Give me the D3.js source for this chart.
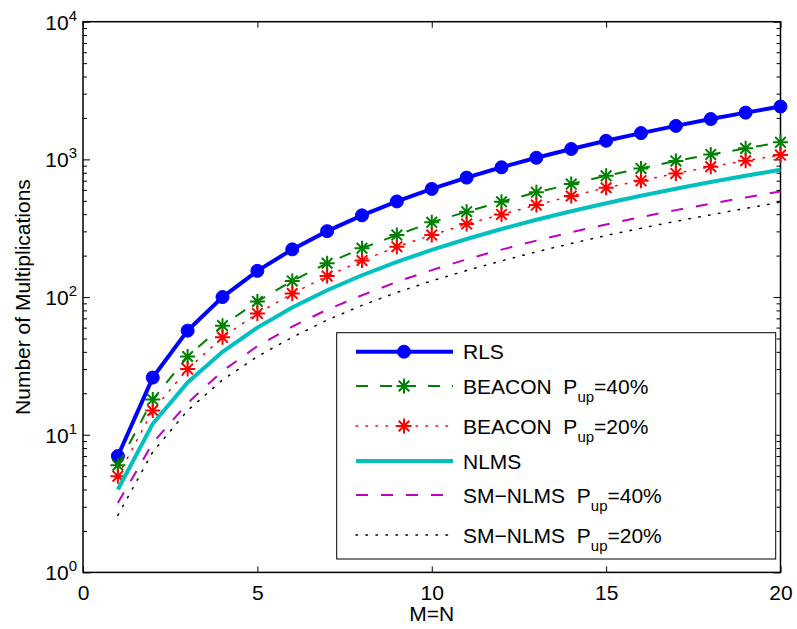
<!DOCTYPE html>
<html lang="en">
<head>
    <meta charset="UTF-8">
    <title>Number of Multiplications vs M=N</title>
    <script src="https://d3js.org/d3.v7.min.js"></script>
    <style>
        body {
            margin: 0;
            background: #fff;
        }
        svg {
            display: block;
            font-family: Arial, "Liberation Sans", Helvetica, sans-serif;
        }
    </style>
</head>
<body>
    <div id="chart"></div>

    <script>
        // filter length M=N
        const filterLength = [1, 2, 3, 4, 5, 6, 7, 8, 9, 10, 11, 12, 13, 14, 15, 16, 17, 18, 19, 20];

        // multiplications per iteration
        const rls = [7, 26, 57, 100, 155, 222, 301, 392, 495, 610, 737, 876, 1027, 1190, 1365, 1552, 1751, 1962, 2185, 2420];
        const beacon40 = [6, 18, 37, 62, 93, 131, 176, 226, 282, 349, 417, 492, 576, 662, 760, 860, 975, 1087, 1202, 1330];
        const beacon20 = [5, 15, 30, 51, 76, 106, 142, 184, 232, 282, 339, 398, 466, 542, 622, 700, 791, 884, 977, 1075];
        const nlms = [4, 12, 24, 40, 60, 84, 112, 144, 180, 220, 264, 312, 364, 420, 480, 544, 612, 684, 760, 840];
        const smNlms40 = [3.2, 8.7, 17, 29, 44, 61, 81, 103, 129, 157, 188, 221, 257, 296, 337, 381, 428, 477, 529, 585];
        const smNlms20 = [2.6, 7.5, 15, 25, 37, 51, 68, 87, 108, 131, 156, 183, 213, 245, 280, 316, 355, 396, 440, 490];

        const xTicks = [0, 5, 10, 15, 20];
        const yTicks = [1, 10, 100, 1000, 10000];

        const series = [
            { name: "RLS", sub: null, pct: null, values: rls, color: "#0000ff", width: 4, dash: null, marker: "circle" },
            { name: "BEACON  P", sub: "up", pct: "=40%", values: beacon40, color: "#008000", width: 2, dash: "12,12", marker: "star" },
            { name: "BEACON  P", sub: "up", pct: "=20%", values: beacon20, color: "#ff0000", width: 1.5, dash: "1.5,8.5", marker: "star" },
            { name: "NLMS", sub: null, pct: null, values: nlms, color: "#00bfbf", width: 4, dash: null, marker: null },
            { name: "SM\u2212NLMS  P", sub: "up", pct: "=40%", values: smNlms40, color: "#bf00bf", width: 2, dash: "12,13", marker: null },
            { name: "SM\u2212NLMS  P", sub: "up", pct: "=20%", values: smNlms20, color: "#000000", width: 1.5, dash: "1.5,8.5", marker: null }
        ];

        const W = 797, H = 629;
        const margin = { top: 21.7, right: 16.5, bottom: 56.6, left: 83 };
        const fontSize = 21;

        const svg = d3.select("#chart").append("svg")
            .attr("width", W)
            .attr("height", H);

        const x = d3.scaleLinear().domain([0, 20]).range([margin.left, W - margin.right]);
        const y = d3.scaleLog().domain([1, 10000]).range([H - margin.bottom, margin.top]);

        // minor log ticks
        const minorTicks = [];
        for (let d = 1; d < 10000; d *= 10) {
            for (let k = 2; k <= 9; k++) minorTicks.push(d * k);
        }

        // bottom + top axes
        svg.append("g")
            .attr("transform", `translate(0,${H - margin.bottom})`)
            .call(d3.axisBottom(x).tickValues(xTicks).tickSize(-6).tickPadding(12.5).tickSizeOuter(0))
            .call(g => g.select(".domain").remove())
            .call(g => g.selectAll("text").attr("font-size", fontSize).attr("fill", "#000").attr("font-family", null));

        svg.append("g")
            .attr("transform", `translate(0,${margin.top})`)
            .call(d3.axisTop(x).tickValues(xTicks).tickSize(-6).tickFormat("").tickSizeOuter(0))
            .call(g => g.select(".domain").remove());

        // left + right axes, major and minor
        svg.append("g")
            .attr("transform", `translate(${margin.left},0)`)
            .call(d3.axisLeft(y).tickValues(yTicks).tickSize(-7).tickFormat("").tickSizeOuter(0))
            .call(g => g.select(".domain").remove());
        svg.append("g")
            .attr("transform", `translate(${margin.left},0)`)
            .call(d3.axisLeft(y).tickValues(minorTicks).tickSize(-4).tickFormat("").tickSizeOuter(0))
            .call(g => g.select(".domain").remove());
        svg.append("g")
            .attr("transform", `translate(${W - margin.right},0)`)
            .call(d3.axisRight(y).tickValues(yTicks).tickSize(-7).tickFormat("").tickSizeOuter(0))
            .call(g => g.select(".domain").remove());
        svg.append("g")
            .attr("transform", `translate(${W - margin.right},0)`)
            .call(d3.axisRight(y).tickValues(minorTicks).tickSize(-4).tickFormat("").tickSizeOuter(0))
            .call(g => g.select(".domain").remove());

        svg.selectAll(".tick line").attr("stroke", "#000").attr("stroke-width", 1);

        // y tick labels with superscripts
        const yLab = svg.append("g").selectAll("text")
            .data(yTicks)
            .join("text")
            .attr("x", margin.left - 6)
            .attr("y", d => y(d) + 8)
            .attr("text-anchor", "end")
            .attr("font-size", fontSize);
        yLab.append("tspan").text("10");
        yLab.append("tspan")
            .attr("dy", -9)
            .attr("font-size", 15)
            .text(d => Math.round(Math.log10(d)));

        // box
        svg.append("rect")
            .attr("x", margin.left)
            .attr("y", margin.top)
            .attr("width", W - margin.left - margin.right)
            .attr("height", H - margin.top - margin.bottom)
            .attr("fill", "none")
            .attr("stroke", "#000")
            .attr("stroke-width", 1.5);

        // axis labels
        svg.append("text")
            .attr("x", (margin.left + W - margin.right) / 2)
            .attr("y", 621)
            .attr("text-anchor", "middle")
            .attr("font-size", fontSize)
            .text("M=N");

        svg.append("text")
            .attr("transform", `translate(30,${(margin.top + H - margin.bottom) / 2}) rotate(-90)`)
            .attr("text-anchor", "middle")
            .attr("font-size", fontSize)
            .text("Number of Multiplications");

        // markers
        const starPath = r => {
            const q = r * Math.SQRT1_2;
            return `M${-r},0L${r},0M0,${-r}L0,${r}M${-q},${-q}L${q},${q}M${-q},${q}L${q},${-q}`;
        };
        function drawMarker(g, type, color) {
            if (type === "circle") {
                g.append("circle").attr("r", 6.5).attr("fill", color).attr("stroke", color).attr("stroke-width", 1);
            } else if (type === "star") {
                g.append("path").attr("d", starPath(7.5)).attr("stroke", color).attr("stroke-width", 2).attr("fill", "none");
            }
        }

        const line = d3.line()
            .x((d, i) => x(filterLength[i]))
            .y(d => y(d));

        const plot = svg.append("g");
        series.forEach(s => {
            plot.append("path")
                .datum(s.values)
                .attr("d", line)
                .attr("fill", "none")
                .attr("stroke", s.color)
                .attr("stroke-width", s.width)
                .attr("stroke-dasharray", s.dash)
                .attr("stroke-linecap", s.dash && s.dash.startsWith("1.5") ? "round" : "butt");
            if (s.marker) {
                s.values.forEach((v, i) => {
                    const g = plot.append("g").attr("transform", `translate(${x(filterLength[i])},${y(v)})`);
                    drawMarker(g, s.marker, s.color);
                });
            }
        });

        // legend
        const legend = svg.append("g");
        legend.append("rect")
            .attr("x", 336.7)
            .attr("y", 332.7)
            .attr("width", 439)
            .attr("height", 226.3)
            .attr("fill", "#fff")
            .attr("stroke", "#000")
            .attr("stroke-width", 1);

        const rowY = [351.7, 386, 426, 461, 495, 535];
        series.forEach((s, i) => {
            const g = legend.append("g").attr("transform", `translate(0,${rowY[i]})`);
            g.append("line")
                .attr("x1", 356).attr("x2", 453)
                .attr("stroke", s.color)
                .attr("stroke-width", s.width)
                .attr("stroke-dasharray", s.dash)
                .attr("stroke-linecap", s.dash && s.dash.startsWith("1.5") ? "round" : "butt");
            if (s.marker) {
                drawMarker(g.append("g").attr("transform", "translate(404,0)"), s.marker, s.color);
            }
            const t = g.append("text")
                .attr("x", 463)
                .attr("y", 7.5)
                .attr("font-size", fontSize)
                .attr("xml:space", "preserve")
                .style("white-space", "pre");
            t.append("tspan").text(s.name);
            if (s.sub) {
                t.append("tspan").attr("dy", 8.5).attr("font-size", 15).text(s.sub);
                t.append("tspan").attr("dy", -8.5).text(s.pct);
            }
        });
    </script>
</body>
</html>
